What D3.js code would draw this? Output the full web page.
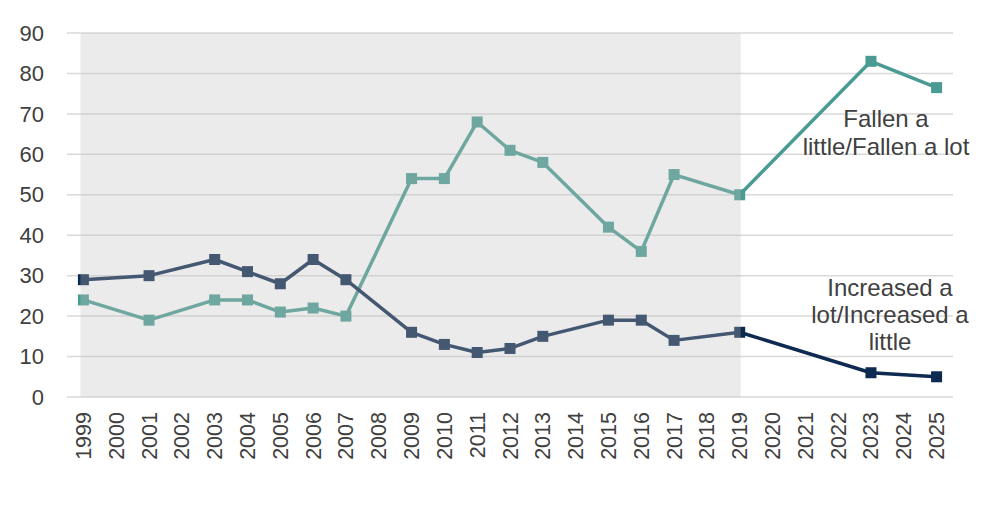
<!DOCTYPE html>
<html>
<head>
<meta charset="utf-8">
<script src="https://cdn.jsdelivr.net/npm/d3@7.9.0/dist/d3.min.js"></script>
<style>
  body { margin: 0; background: #fff; }
  text { font-family: "Liberation Sans", Arial, sans-serif; fill: #404040; }
</style>
</head>
<body>
<svg></svg>
<script>
const width = 988;
const height = 524;

const years = ["1999","2000","2001","2002","2003","2004","2005","2006","2007","2008","2009","2010",
  "2011","2012","2013","2014","2015","2016","2017","2018","2019","2020","2021","2022","2023","2024","2025"];
const yTicks = [0, 10, 20, 30, 40, 50, 60, 70, 80, 90];

const surveyYears = ["1999","2001","2003","2004","2005","2006","2007","2009","2010","2011","2012","2013",
  "2015","2016","2017","2019","2023","2025"];
const increased = [29, 30, 34, 31, 28, 34, 29, 16, 13, 11, 12, 15, 19, 19, 14, 16, 6, 5];
const fallen = [24, 19, 24, 24, 21, 22, 20, 54, 54, 68, 61, 58, 42, 36, 55, 50, 83, 76.5];

const shadeFrom = "1999";
const shadeTo = "2019";

const svg = d3.select("svg")
    .attr("width", width)
    .attr("height", height);

const x = d3.scaleBand()
    .domain(years)
    .range([67, 953]);

const y = d3.scaleLinear()
    .domain([0, 90])
    .range([397, 33]);

const cx = d => x(d) + x.bandwidth() / 2;

// gridlines
svg.append("g")
    .selectAll("line")
    .data(yTicks)
    .enter().append("line")
    .attr("x1", 67)
    .attr("x2", 953)
    .attr("y1", d => y(d))
    .attr("y2", d => y(d))
    .attr("stroke", "#d9d9d9")
    .attr("stroke-width", 1.5);

// y labels
svg.append("g")
    .selectAll("text")
    .data(yTicks)
    .enter().append("text")
    .attr("x", 44)
    .attr("y", d => y(d))
    .attr("dy", "0.35em")
    .attr("text-anchor", "end")
    .attr("font-size", 22)
    .text(d => d);

// x labels
svg.append("g")
    .selectAll("text")
    .data(years)
    .enter().append("text")
    .attr("transform", d => `translate(${cx(d)},412) rotate(-90)`)
    .attr("dy", "0.35em")
    .attr("text-anchor", "end")
    .attr("font-size", 21.5)
    .text(d => d);

const series = [
  { name: "fallen", values: fallen, color: "#4a9b93" },
  { name: "increased", values: increased, color: "#0e2a50" }
];

const line = d3.line()
    .x(d => cx(d[0]))
    .y(d => y(d[1]));

series.forEach(s => {
  const pts = surveyYears.map((yr, i) => [yr, s.values[i]]);
  svg.append("path")
      .datum(pts)
      .attr("fill", "none")
      .attr("stroke", s.color)
      .attr("stroke-width", 3.5)
      .attr("stroke-linejoin", "round")
      .attr("d", line);
  svg.append("g")
      .selectAll("rect")
      .data(pts)
      .enter().append("rect")
      .attr("x", d => cx(d[0]) - 5.5)
      .attr("y", d => y(d[1]) - 5.5)
      .attr("width", 11)
      .attr("height", 11)
      .attr("fill", s.color);
});

// shaded period drawn over the lines
svg.append("rect")
    .attr("x", cx(shadeFrom) - 3)
    .attr("y", y(90))
    .attr("width", cx(shadeTo) + 1 - (cx(shadeFrom) - 3))
    .attr("height", y(0) - y(90))
    .attr("fill", "#bfbfbf")
    .attr("fill-opacity", 0.31);

// labels
const labels = [
  { lines: ["Fallen a", "little/Fallen a lot"], x: 886, y: 119, gap: 28 },
  { lines: ["Increased a", "lot/Increased a", "little"], x: 890, y: 288, gap: 27 }
];
labels.forEach(l => {
  const t = svg.append("text")
      .attr("text-anchor", "middle")
      .attr("font-size", 24);
  l.lines.forEach((ln, i) => {
    t.append("tspan")
        .attr("x", l.x)
        .attr("y", l.y + i * l.gap)
        .attr("dy", "0.35em")
        .text(ln);
  });
});
</script>
</body>
</html>
